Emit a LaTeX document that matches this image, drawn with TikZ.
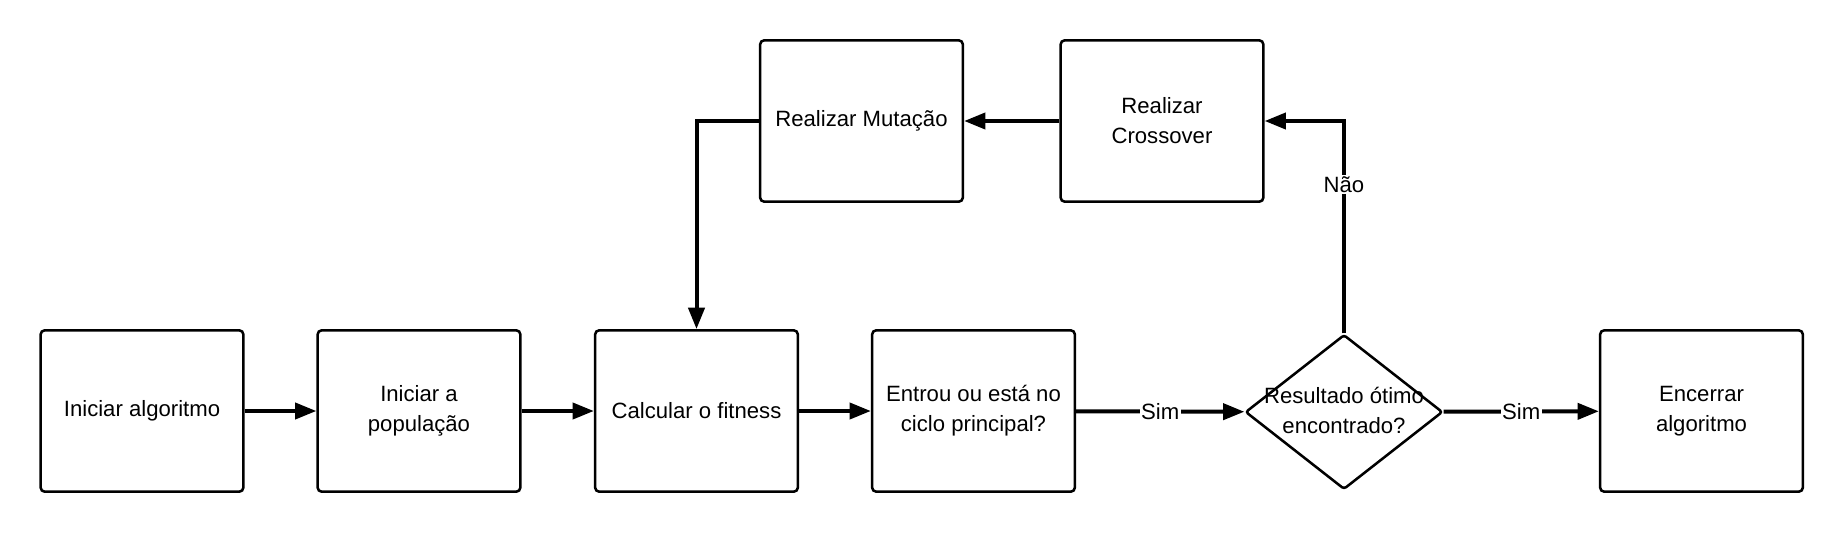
\documentclass[tikz,border=0pt]{standalone}
\usepackage{fontspec}
\setmainfont{Liberation Sans}
\usetikzlibrary{arrows.meta,shapes.geometric}
\begin{document}
\begin{tikzpicture}[x=0.75pt,y=-0.75pt,
  box/.style={draw,line width=1.9pt,rounded corners=3pt,minimum width=152pt,minimum height=121pt,align=center,inner sep=0pt,font=\fontsize{16.6}{22.5}\selectfont},
  dec/.style={draw,line width=1.9pt,diamond,minimum width=148pt,minimum height=116pt,inner sep=0pt,rounded corners=2pt},
  txt/.style={align=center,inner sep=0pt,font=\fontsize{16.6}{22.5}\selectfont},
  conn/.style={line width=3pt,-{Triangle[length=16pt,width=12pt]}},
  lab/.style={fill=white,inner sep=1pt,font=\fontsize{16.6}{20}\selectfont}]
\useasboundingbox (0,0) rectangle (1843,533);
\node[box] (b1) at (142,411) {Iniciar algoritmo};
\node[box] (b2) at (419,411) {Iniciar a\\população};
\node[box] (b3) at (696.5,411) {Calcular o fitness};
\node[box] (b4) at (973.5,411) {Entrou ou está no\\ciclo principal?};
\node[dec] (d) at (1344,412) {};
\node[txt] (dt) at (1344,410) {Resultado ótimo\\encontrado?};
\node[box] (b6) at (1701.5,411) {Encerrar\\algoritmo};
\node[box] (mut) at (861.5,121) {Realizar Mutação};
\node[box] (cro) at (1162,121) {Realizar\\Crossover};
\draw[conn] (b1) -- (b2);
\draw[conn] (b2) -- (b3);
\draw[conn] (b3) -- (b4);
\draw[conn] (b4) -- node[lab] {Sim} (d);
\draw[conn] (d) -- node[lab] {Sim} (b6);
\draw[conn] (cro) -- (mut);
\draw[conn] (mut.west) -| (b3.north);
\draw[conn] (d.north) -- node[lab,pos=0.7] {Não} (d.north |- cro.east) -- (cro.east);
\end{tikzpicture}
\end{document}
